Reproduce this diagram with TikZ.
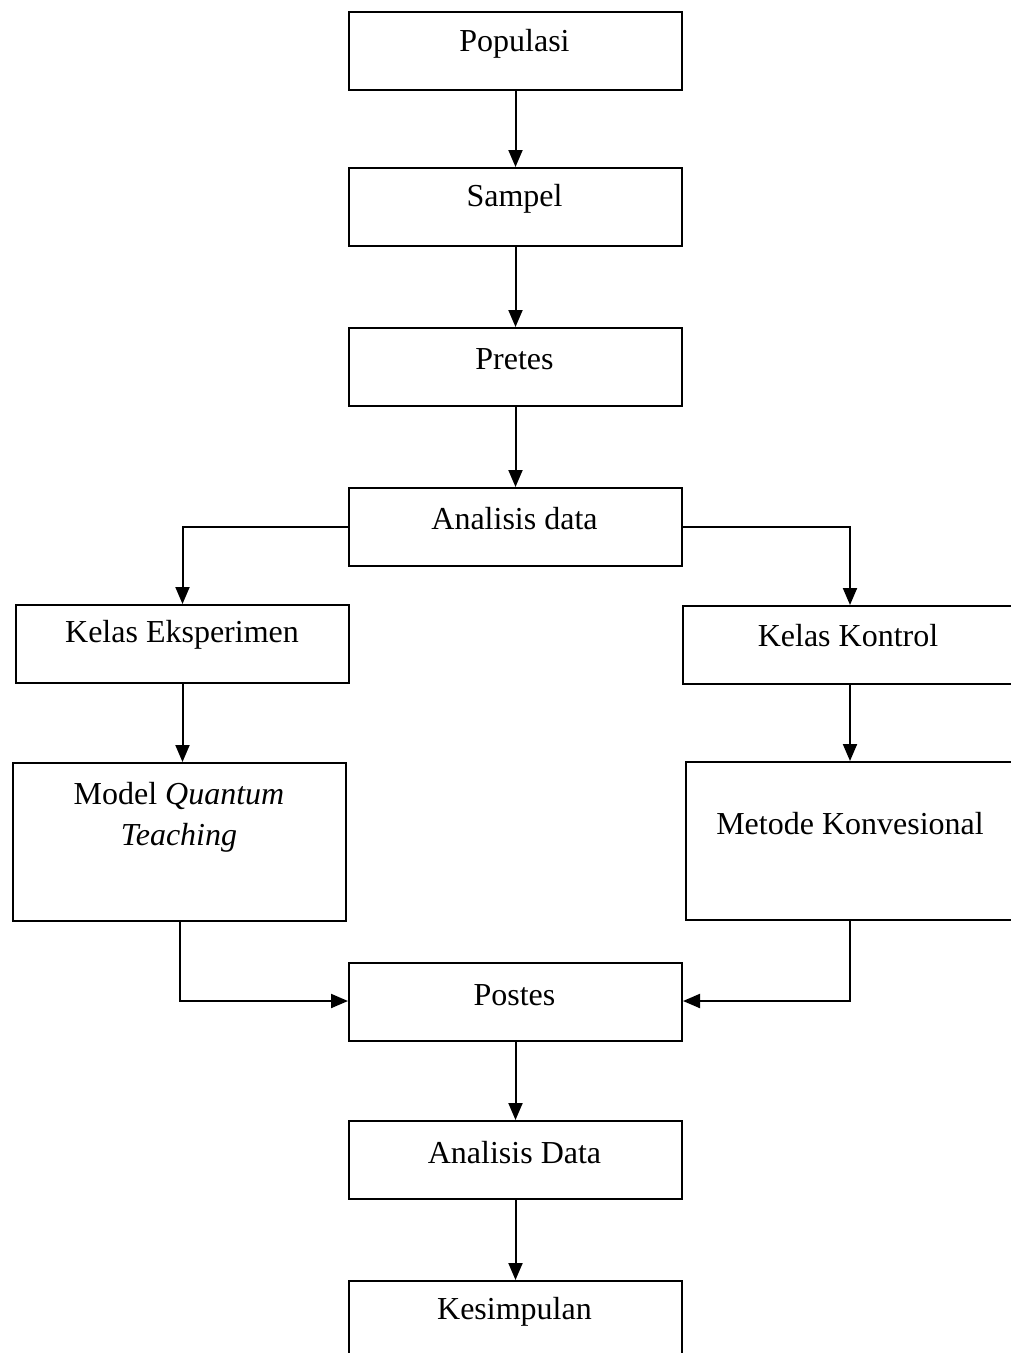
\documentclass[tikz,border=0pt]{standalone}
\usepackage{fontspec}
\setmainfont{Liberation Serif}
\usetikzlibrary{arrows.meta}
\begin{document}
\begin{tikzpicture}[x=1pt,y=-1pt,
  box/.style={draw, line width=2pt, rectangle, anchor=north west, inner sep=0pt, minimum width=333pt, minimum height=78pt},
  lbl/.style={font=\fontsize{32pt}{42pt}\selectfont, inner sep=0pt, align=center},
  conn/.style={line width=2pt, -{Triangle[width=14pt,length=17pt]}}]
\useasboundingbox (0,0) rectangle (1011,1353);
\clip (0,0) rectangle (1011,1353);
% boxes
\node[box] (pop) at (348,11) {};
\node[box] (sam) at (348,167) {};
\node[box] (pre) at (348,327) {};
\node[box] (ana) at (348,487) {};
\node[box] (ke) at (15,604) {};
\node[box, minimum width=334pt] (kk) at (682,605) {};
\node[box, minimum height=158pt] (mqt) at (12,762) {};
\node[box, minimum width=328pt, minimum height=158pt] (mk) at (685,761) {};
\node[box] (pos) at (348,962) {};
\node[box] (ad) at (348,1120) {};
\node[box, minimum height=90pt] (kes) at (348,1280) {};
% labels
\node[lbl] (tpop) at (514.5,44) {Populasi};
\node[lbl] (tsam) at (514.5,199) {Sampel};
\node[lbl] (tpre) at (514.5,359) {Pretes};
\node[lbl] (tana) at (514.5,519) {Analisis data};
\node[lbl] (tke) at (182,635) {Kelas Eksperimen};
\node[lbl] (tkk) at (848,636) {Kelas Kontrol};
\node[lbl] (tmqt1) at (179,796) {Model \textit{Quantum}};
\node[lbl] (tmqt2) at (179,838) {\textit{Teaching}};
\node[lbl] (tmk) at (850,824) {Metode Konvesional};
\node[lbl] (tpos) at (514.5,995) {Postes};
\node[lbl] (tad) at (514.5,1153) {Analisis Data};
\node[lbl] (tkes) at (514.5,1312) {Kesimpulan};
% connectors
\draw[conn] (pop.south) -- (sam.north);
\draw[conn] (sam.south) -- (pre.north);
\draw[conn] (pre.south) -- (ana.north);
\draw[conn] (ana.west) -| (ke.north);
\draw[conn] (ana.east) -| (kk.north);
\draw[conn] (ke.south) -- (ke.south |- mqt.north);
\draw[conn] (kk.south) -- (mk.north);
\draw[conn] (mqt.south) |- ([yshift=1pt]pos.west);
\draw[conn] (mk.south) |- ([yshift=1pt]pos.east);
\draw[conn] (pos.south) -- (ad.north);
\draw[conn] (ad.south) -- (kes.north);
\end{tikzpicture}
\end{document}
